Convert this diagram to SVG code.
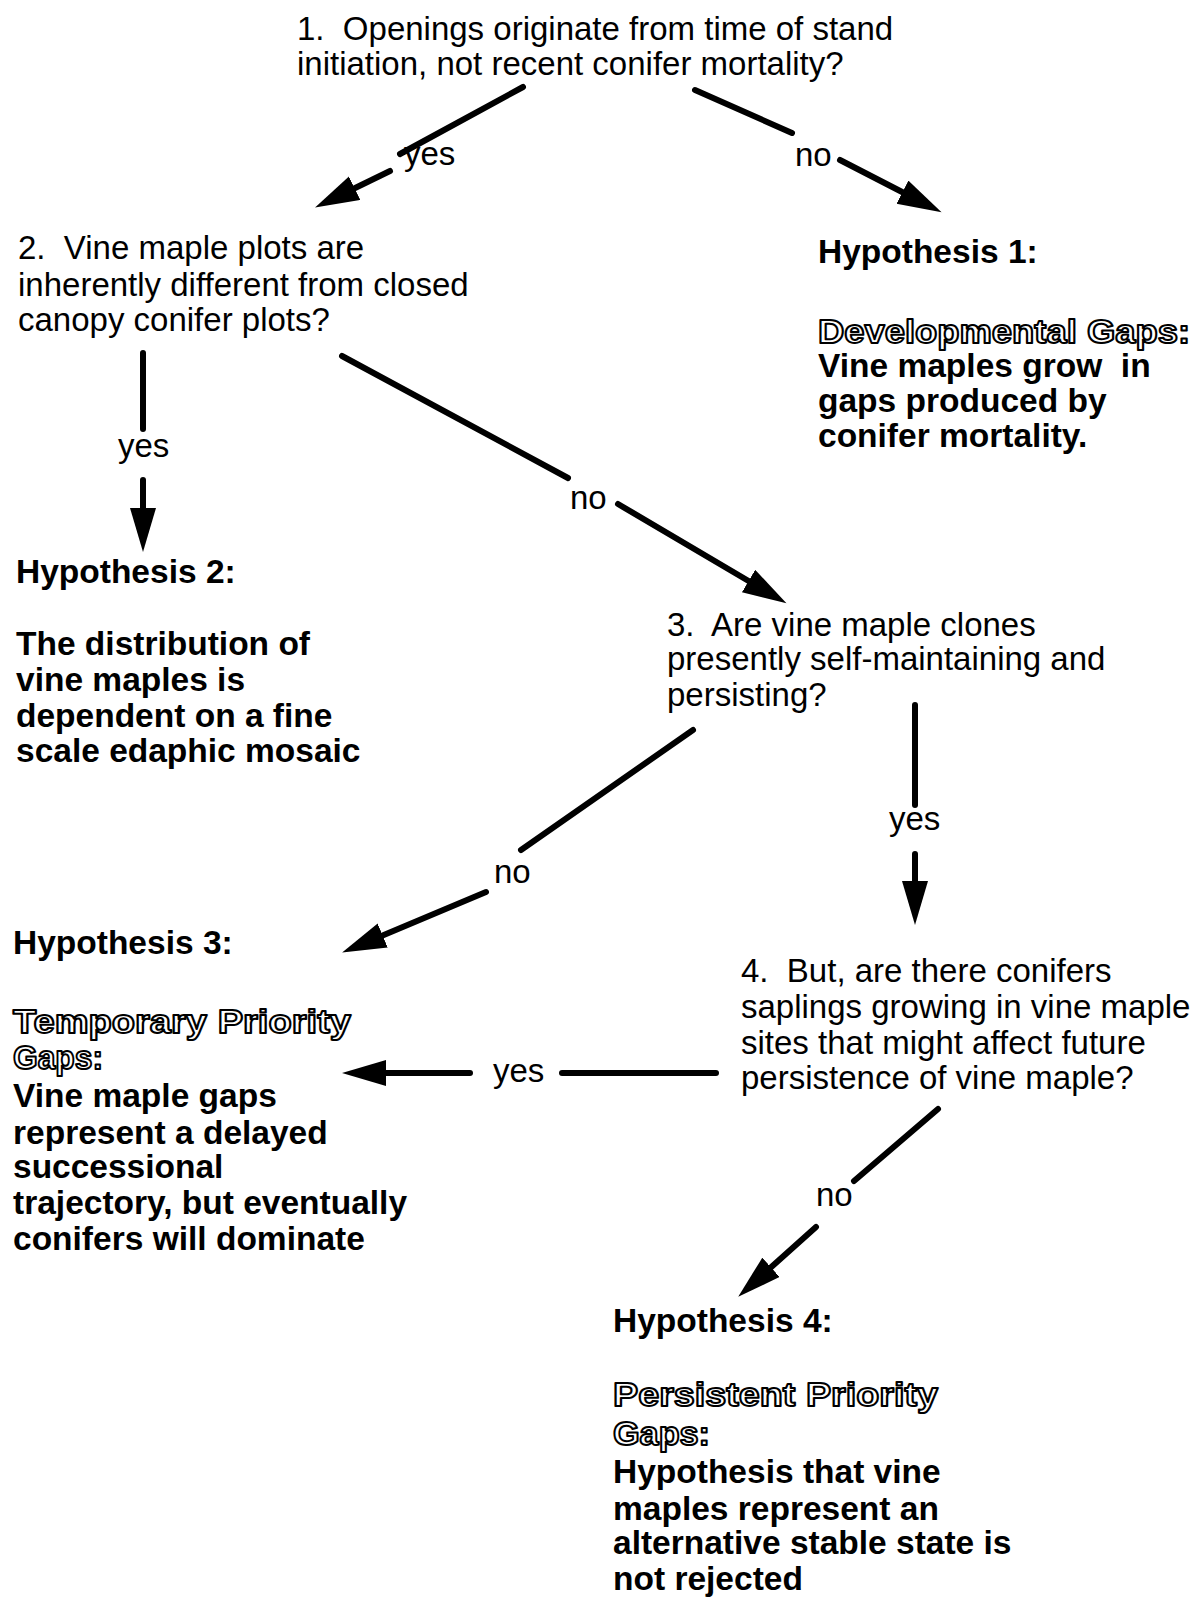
<svg xmlns="http://www.w3.org/2000/svg" width="1197" height="1603" viewBox="0 0 1197 1603" xml:space="preserve">
<defs>
<style>
text{font-family:"Liberation Sans",Arial,sans-serif;font-size:33px;fill:#000;white-space:pre}
.b{font-weight:bold;font-size:33.5px}
.o{font-weight:bold;font-size:34px;fill:#fff;stroke:#000;stroke-width:2px;stroke-linejoin:round}
.c{stroke:#000;stroke-width:6;fill:none;stroke-linecap:round}
</style>
<marker id="ah" markerUnits="userSpaceOnUse" markerWidth="46" markerHeight="28" refX="4" refY="13" orient="auto">
<path d="M0,0 L44,13 L0,26 Z" fill="#000"/>
</marker>
</defs>
<rect width="1197" height="1603" fill="#fff"/>

<g id="q1">
<text x="297" y="40" xml:space="preserve">1.  Openings originate from time of stand</text>
<text x="297" y="75">initiation, not recent conifer mortality?</text>
</g>
<g id="q2">
<text x="18" y="259" xml:space="preserve">2.  Vine maple plots are</text>
<text x="18" y="296">inherently different from closed</text>
<text x="18" y="331">canopy conifer plots?</text>
</g>
<g id="h1">
<text class="b" x="818" y="263">Hypothesis 1:</text>
<text class="o" x="818" y="343" textLength="372" lengthAdjust="spacingAndGlyphs">Developmental Gaps:</text>
<text class="b" x="818" y="377" xml:space="preserve">Vine maples grow  in</text>
<text class="b" x="818" y="412">gaps produced by</text>
<text class="b" x="818" y="447">conifer mortality.</text>
</g>
<g id="h2">
<text class="b" x="16" y="583">Hypothesis 2:</text>
<text class="b" x="16" y="655">The distribution of</text>
<text class="b" x="16" y="691">vine maples is</text>
<text class="b" x="16" y="727">dependent on a fine</text>
<text class="b" x="16" y="762">scale edaphic mosaic</text>
</g>
<g id="q3">
<text x="667" y="636" xml:space="preserve">3.  Are vine maple clones</text>
<text x="667" y="670">presently self-maintaining and</text>
<text x="667" y="706">persisting?</text>
</g>
<g id="h3">
<text class="b" x="13" y="954">Hypothesis 3:</text>
<text class="o" x="13" y="1033" textLength="338" lengthAdjust="spacingAndGlyphs">Temporary Priority</text>
<text class="o" x="13" y="1069" textLength="90" lengthAdjust="spacingAndGlyphs">Gaps:</text>
<text class="b" x="13" y="1107">Vine maple gaps</text>
<text class="b" x="13" y="1144">represent a delayed</text>
<text class="b" x="13" y="1178">successional</text>
<text class="b" x="13" y="1214">trajectory, but eventually</text>
<text class="b" x="13" y="1250">conifers will dominate</text>
</g>
<g id="q4">
<text x="741" y="982" xml:space="preserve">4.  But, are there conifers</text>
<text x="741" y="1018">saplings growing in vine maple</text>
<text x="741" y="1054">sites that might affect future</text>
<text x="741" y="1089">persistence of vine maple?</text>
</g>
<g id="h4">
<text class="b" x="613" y="1332">Hypothesis 4:</text>
<text class="o" x="613" y="1406" textLength="325" lengthAdjust="spacingAndGlyphs">Persistent Priority</text>
<text class="o" x="613" y="1445" textLength="97" lengthAdjust="spacingAndGlyphs">Gaps:</text>
<text class="b" x="613" y="1483">Hypothesis that vine</text>
<text class="b" x="613" y="1520">maples represent an</text>
<text class="b" x="613" y="1554">alternative stable state is</text>
<text class="b" x="613" y="1590">not rejected</text>
</g>

<g id="connectors">
<line class="c" x1="523" y1="87" x2="400" y2="154"/>
<line class="c" x1="390" y1="171" x2="351" y2="190" marker-end="url(#ah)"/>
<text x="404" y="165">yes</text>

<line class="c" x1="695" y1="90" x2="792" y2="133"/>
<line class="c" x1="840" y1="160" x2="906" y2="194" marker-end="url(#ah)"/>
<text x="795" y="166">no</text>

<line class="c" x1="143" y1="353" x2="143" y2="429"/>
<line class="c" x1="143" y1="480" x2="143" y2="512" marker-end="url(#ah)"/>
<text x="118" y="457">yes</text>

<line class="c" x1="342" y1="356" x2="568" y2="478"/>
<line class="c" x1="618" y1="504" x2="752" y2="583" marker-end="url(#ah)"/>
<text x="570" y="509">no</text>

<line class="c" x1="693" y1="730" x2="521" y2="850"/>
<line class="c" x1="486" y1="892" x2="379" y2="937" marker-end="url(#ah)"/>
<text x="494" y="883">no</text>

<line class="c" x1="915" y1="705" x2="915" y2="805"/>
<line class="c" x1="915" y1="854" x2="915" y2="885" marker-end="url(#ah)"/>
<text x="889" y="830">yes</text>

<line class="c" x1="716" y1="1073" x2="562" y2="1073"/>
<line class="c" x1="470" y1="1073" x2="382" y2="1073" marker-end="url(#ah)"/>
<text x="493" y="1082">yes</text>

<line class="c" x1="938" y1="1109" x2="854" y2="1181"/>
<line class="c" x1="816" y1="1227" x2="768" y2="1270" marker-end="url(#ah)"/>
<text x="816" y="1206">no</text>
</g>
</svg>
